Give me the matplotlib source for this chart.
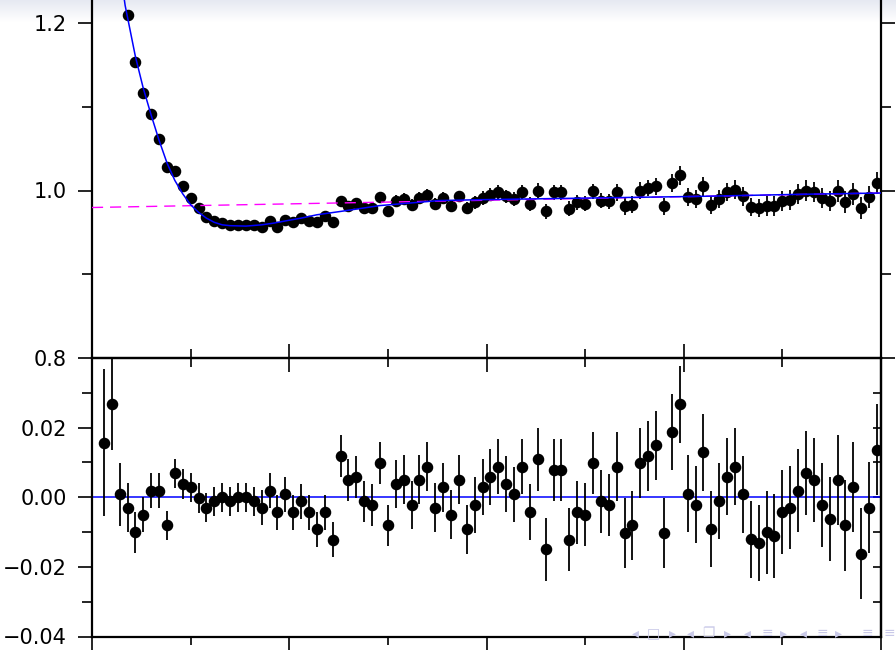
import numpy as np
import matplotlib
matplotlib.use('Agg')
import matplotlib.pyplot as plt
from matplotlib.ticker import FixedLocator, FuncFormatter

# ── measured ratio and fit residuals, 99 bins on 0..100 ─────────────────────

BIN_X = np.arange(1.5, 100.0, 1.0)

RATIO = [
    1.443, 1.369, 1.272, 1.209, 1.153, 1.117, 1.091, 1.061, 1.028, 1.023,
    1.005, 0.991, 0.979, 0.968, 0.964, 0.961, 0.959, 0.959, 0.959, 0.959,
    0.956, 0.963, 0.957, 0.965, 0.962, 0.967, 0.964, 0.962, 0.969, 0.962,
    0.988, 0.982, 0.985, 0.979, 0.979, 0.992, 0.975, 0.988, 0.990, 0.983,
    0.991, 0.995, 0.984, 0.991, 0.981, 0.993, 0.979, 0.986, 0.991, 0.995,
    0.998, 0.993, 0.990, 0.998, 0.984, 1.000, 0.975, 0.998, 0.998, 0.978,
    0.986, 0.984, 0.999, 0.988, 0.987, 0.998, 0.981, 0.983, 1.000, 1.003,
    1.005, 0.981, 1.009, 1.018, 0.992, 0.990, 1.005, 0.983, 0.990, 0.998,
    1.001, 0.993, 0.980, 0.979, 0.982, 0.981, 0.988, 0.989, 0.996, 1.000,
    0.998, 0.991, 0.988, 0.999, 0.986, 0.996, 0.979, 0.992, 1.009,
]

RESID = [
    0.0157, 0.0267, 0.0008, -0.0030, -0.0101, -0.0050, 0.0019, 0.0019, -0.0081, 0.0069,
    0.0038, 0.0029, -0.0002, -0.0030, -0.0012, 0.0000, -0.0012, 0.0000, 0.0000, -0.0012,
    -0.0030, 0.0019, -0.0043, 0.0008, -0.0043, -0.0012, -0.0043, -0.0092, -0.0043, -0.0122,
    0.0119, 0.0050, 0.0059, -0.0012, -0.0022, 0.0098, -0.0081, 0.0038, 0.0050, -0.0022,
    0.0050, 0.0088, -0.0030, 0.0029, -0.0050, 0.0050, -0.0092, -0.0022, 0.0029, 0.0059,
    0.0088, 0.0038, 0.0008, 0.0088, -0.0043, 0.0109, -0.0150, 0.0078, 0.0078, -0.0122,
    -0.0043, -0.0050, 0.0098, -0.0012, -0.0022, 0.0088, -0.0102, -0.0081, 0.0098, 0.0119,
    0.0149, -0.0102, 0.0188, 0.0267, 0.0010, -0.0021, 0.0129, -0.0091, -0.0011, 0.0059,
    0.0088, 0.0008, -0.0121, -0.0131, -0.0101, -0.0111, -0.0042, -0.0030, 0.0019, 0.0069,
    0.0050, -0.0022, -0.0062, 0.0050, -0.0081, 0.0029, -0.0162, -0.0030, 0.0137,
]

ERR = [
    0.021, 0.013, 0.009, 0.007, 0.006, 0.005, 0.005, 0.005, 0.0042, 0.0042,
    0.0042, 0.0042, 0.0042, 0.0042, 0.0042, 0.0042, 0.0042, 0.0042, 0.0042, 0.0042,
    0.005, 0.005, 0.005, 0.005, 0.005, 0.005, 0.005, 0.005, 0.005, 0.0051,
    0.006, 0.006, 0.006, 0.006, 0.006, 0.006, 0.006, 0.007, 0.007, 0.007,
    0.007, 0.007, 0.007, 0.007, 0.007, 0.007, 0.007, 0.008, 0.008, 0.008,
    0.008, 0.008, 0.008, 0.008, 0.008, 0.009, 0.009, 0.009, 0.009, 0.009,
    0.009, 0.009, 0.009, 0.009, 0.009, 0.010, 0.010, 0.010, 0.010, 0.010,
    0.010, 0.010, 0.011, 0.011, 0.011, 0.011, 0.011, 0.011, 0.011, 0.011,
    0.011, 0.011, 0.011, 0.011, 0.012, 0.012, 0.012, 0.012, 0.012, 0.012,
    0.012, 0.012, 0.012, 0.013, 0.013, 0.013, 0.013, 0.013, 0.013,
]

# full fit (blue) and the slowly varying baseline (magenta, dashed)
FIT_X = [3.0, 4.2, 5.5, 6.5, 7.5, 8.5, 9.5, 10.5, 11.5, 12.5, 13.5, 14.5,
         15.5, 16.5, 17.5, 19.5, 21.5, 23.0, 25.0, 26.5, 28.5, 31.5, 36.5,
         44.0, 49.0, 63.0, 77.0, 90.0, 100.0]
FIT_Y = [1.300, 1.221, 1.160, 1.122, 1.090, 1.060, 1.033, 1.012, 0.996, 0.983,
         0.974, 0.967, 0.962, 0.959, 0.958, 0.9575, 0.959, 0.961, 0.9645, 0.967,
         0.971, 0.975, 0.982, 0.988, 0.989, 0.991, 0.993, 0.9955, 0.997]

BASE_X = [0.0, 100.0]
BASE_Y = [0.9797, 0.997]

NAV_GLYPHS = ['◂', '□', '▸', '◂', '❐', '▸', '◂', '≡', '▸', '◂', '≡', '▸', '≡', '≡']
NAV_PX = [635, 653, 672, 690, 708, 727, 747, 767, 783, 803, 822, 838, 867, 889]

W, H = 896, 650
fig = plt.figure(figsize=(W / 100, H / 100), dpi=100)

# faint header band along the top edge
band = fig.add_axes([0, 1 - 22 / H, 1, 22 / H], zorder=-5)
grad = np.linspace(0, 1, 64)[:, None]
band.imshow(grad, aspect='auto', cmap=matplotlib.colors.LinearSegmentedColormap.from_list(
    'hdr', ['#e6e9f2', '#ffffff']), extent=[0, 1, 0, 1], origin='upper')
band.axis('off')

left, right = 92 / W, 881 / W
split = 1 - 358 / H
bottom = 1 - 636.5 / H

ax_res = fig.add_axes([left, bottom, right - left, split - bottom], zorder=1)
ax_top = fig.add_axes([left, split, right - left, 1 - split], zorder=2)

for ax in (ax_top, ax_res):
    ax.set_facecolor('none')
    ax.set_xlim(0, 100)
    for s in ax.spines.values():
        s.set_linewidth(1.6)
    ax.xaxis.set_major_locator(FixedLocator([0, 25, 50, 75, 100]))
    ax.xaxis.set_minor_locator(FixedLocator([12.5, 37.5, 62.5, 87.5]))

lab_font = dict(family='DejaVu Sans', size=15)

# ── upper panel: ratio with fit ──────────────────────────────────────────────
ax_top.errorbar(BIN_X, RATIO, yerr=ERR, fmt='o', color='black', ms=7.3,
                elinewidth=1.3, capsize=0, zorder=3)
ax_top.plot(BASE_X, BASE_Y, color='#ff00ff', lw=1.0, dashes=(8, 5), zorder=4)
ax_top.plot(FIT_X, FIT_Y, color='#0000ff', lw=1.1, zorder=5)
ax_top.set_ylim(0.8, 1.2 + 23 / 837.5)
ax_top.spines['top'].set_visible(False)
ax_top.yaxis.set_major_locator(FixedLocator([0.8, 1.0, 1.2]))
ax_top.yaxis.set_minor_locator(FixedLocator([0.9, 1.1]))
ax_top.yaxis.set_major_formatter(FuncFormatter(lambda v, _: f'{v:.1f}'))
ax_top.tick_params(axis='y', which='both', direction='out', left=True, right=True,
                   width=1.2, pad=8)
ax_top.tick_params(axis='y', which='major', length=10)
ax_top.tick_params(axis='y', which='minor', length=7)
ax_top.tick_params(axis='x', which='both', direction='inout', bottom=True, top=False,
                   labelbottom=False, width=1.2)
ax_top.tick_params(axis='x', which='major', length=20)
ax_top.tick_params(axis='x', which='minor', length=13)
for t in ax_top.get_yticklabels():
    t.set(**lab_font)

# ── lower panel: residuals ──────────────────────────────────────────────────
ax_res.axhline(0.0, color='#0000ff', lw=1.1, zorder=2)
ax_res.errorbar(BIN_X, RESID, yerr=ERR, fmt='o', color='black', ms=7.3,
                elinewidth=1.3, capsize=0, zorder=3)
ax_res.set_ylim(-0.04, 0.04)
ax_res.yaxis.set_major_locator(FixedLocator([-0.04, -0.02, 0.0, 0.02]))
ax_res.yaxis.set_minor_locator(FixedLocator([-0.03, -0.01, 0.01, 0.03]))
ax_res.yaxis.set_major_formatter(FuncFormatter(
    lambda v, _: f'{v:.2f}'.replace('-', '\u2212')))
ax_res.tick_params(axis='y', which='both', direction='out', left=True, right=False,
                   width=1.2, pad=8)
ax_res.tick_params(axis='y', which='major', length=10)
ax_res.tick_params(axis='y', which='minor', length=7)
ax_res.tick_params(axis='x', which='both', direction='out', bottom=True, top=False,
                   labelbottom=False, width=1.2)
ax_res.tick_params(axis='x', which='major', length=10)
ax_res.tick_params(axis='x', which='minor', length=6)
for t in ax_res.get_yticklabels():
    t.set(**lab_font)

# inward ticks on the right edge of the residual panel
sec = ax_res.secondary_yaxis('right')
sec.yaxis.set_major_locator(FixedLocator([-0.03, -0.02, -0.01, 0.0, 0.01, 0.02, 0.03]))
sec.tick_params(direction='in', length=6, width=1.2, labelright=False)
sec.spines['right'].set_linewidth(1.6)

# slide navigation symbols, bottom right
for g, px in zip(NAV_GLYPHS, NAV_PX):
    fig.text(px / W, 1 - 633 / H, g, color='#c9c9e8', fontsize=10,
             ha='center', va='center', zorder=10)

fig.savefig('out.png', dpi=100)
